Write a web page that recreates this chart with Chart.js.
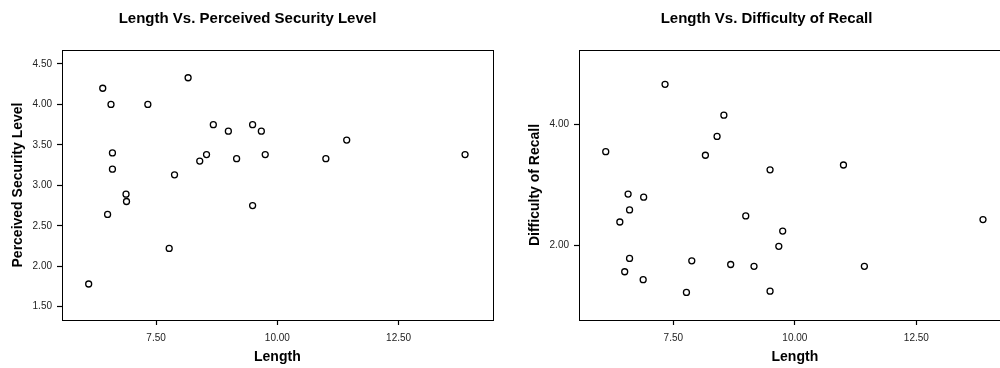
<!DOCTYPE html>
<html>
<head>
<meta charset="utf-8">
<script src="https://cdn.jsdelivr.net/npm/chart.js@4.4.1/dist/chart.umd.min.js"></script>
<style>
  html, body { margin: 0; padding: 0; background: #fff; overflow: hidden; width: 1000px; height: 368px; }
  .wrap { position: absolute; top: 0; }
  #wrapSecurity { left: 0; }
  #wrapRecall { left: 520px; }
</style>
</head>
<body>
<div class="wrap" id="wrapSecurity"><canvas id="securityChart" width="498" height="368"></canvas></div>
<div class="wrap" id="wrapRecall"><canvas id="recallChart" width="496" height="368"></canvas></div>
<script>
// password length per participant (shared x values of both plots)
const lengths = [6.11, 6.40, 6.50, 6.57, 6.60, 6.60, 6.88, 6.89, 7.33, 7.77, 7.88, 8.16,
                 8.40, 8.54, 8.68, 8.99, 9.16, 9.49, 9.49, 9.67, 9.75, 11.00, 11.43, 13.87];
const securityLevels = [1.78, 4.20, 2.64, 4.00, 3.40, 3.20, 2.89, 2.80, 4.00, 2.22, 3.13, 4.33,
                        3.30, 3.38, 3.75, 3.67, 3.33, 3.75, 2.75, 3.67, 3.38, 3.33, 3.56, 3.38];
const recallDifficulty = [3.55, 2.39, 1.57, 2.85, 2.59, 1.79, 1.44, 2.80, 4.66, 1.23, 1.75, 3.49,
                          3.80, 4.15, 1.69, 2.49, 1.66, 3.25, 1.25, 1.99, 2.24, 3.33, 1.66, 2.43];

const lengthTicks = [7.5, 10, 12.5];
const securityTicks = [1.5, 2, 2.5, 3, 3.5, 4, 4.5];
const recallTicks = [2, 4];

const FONT = '"Liberation Sans", Arial, sans-serif';

// draws the closed box round the plot area
const frameBox = {
  id: 'frameBox',
  afterDatasetsDraw(chart) {
    const { ctx, chartArea: a } = chart;
    ctx.save();
    ctx.strokeStyle = '#000';
    ctx.lineWidth = 1;
    ctx.strokeRect(Math.round(a.left) + 0.5, Math.round(a.top) + 0.5,
      Math.round(a.right - a.left), Math.round(a.bottom - a.top));
    ctx.restore();
  }
};

const axisGrid = {
  drawOnChartArea: false,
  drawTicks: true,
  tickLength: 5,
  color: '#000',
  lineWidth: 1,
  tickColor: '#000',
  tickWidth: 1.2
};

function makeScatter(canvasId, yValues, opts) {
  const points = lengths.map((x, i) => ({ x: x, y: yValues[i] }));
  return new Chart(document.getElementById(canvasId).getContext('2d'), {
    type: 'scatter',
    data: {
      datasets: [{
        data: points,
        pointStyle: 'circle',
        pointRadius: 3,
        pointBorderWidth: 1.3,
        pointBorderColor: '#000',
        pointBackgroundColor: '#fff'
      }]
    },
    options: {
      responsive: false,
      animation: false,
      devicePixelRatio: 1,
      layout: { padding: { left: 0, right: opts.rightPad, top: 0, bottom: 0 } },
      plugins: {
        legend: { display: false },
        tooltip: { enabled: false },
        title: {
          display: true,
          text: opts.title,
          color: '#000',
          font: { family: FONT, size: 15, weight: 'bold' },
          padding: { top: 10, bottom: 22 }
        }
      },
      scales: {
        x: {
          type: 'linear',
          position: 'bottom',
          min: 5.56,
          max: 14.44,
          afterBuildTicks: s => { s.ticks = lengthTicks.map(v => ({ value: v })); },
          afterFit: s => { s.height = 48; },
          ticks: {
            callback: v => Number(v).toFixed(2),
            color: '#222',
            font: { family: FONT, size: 10 },
            padding: 7,
            maxRotation: 0,
            autoSkip: false
          },
          grid: axisGrid,
          border: { display: true, color: '#000' },
          title: {
            display: true,
            text: 'Length',
            color: '#000',
            font: { family: FONT, size: 14, weight: 'bold' },
            padding: { top: 0, bottom: 2 }
          }
        },
        y: {
          type: 'linear',
          position: 'left',
          min: opts.yMin,
          max: opts.yMax,
          afterBuildTicks: s => { s.ticks = opts.yTicks.map(v => ({ value: v })); },
          afterFit: s => { s.width = opts.yAxisWidth; },
          ticks: {
            callback: v => Number(v).toFixed(2),
            color: '#222',
            font: { family: FONT, size: 10 },
            padding: 5,
            autoSkip: false
          },
          grid: axisGrid,
          border: { display: true, color: '#000' },
          title: {
            display: true,
            text: opts.yLabel,
            color: '#000',
            font: { family: FONT, size: 14, weight: 'bold' },
            padding: { top: opts.yTitlePad, bottom: 0 }
          }
        }
      }
    },
    plugins: [frameBox]
  });
}

makeScatter('securityChart', securityLevels, {
  title: 'Length Vs. Perceived Security Level',
  yLabel: 'Perceived Security Level',
  yMin: 1.335,
  yMax: 4.673,
  yTicks: securityTicks,
  yAxisWidth: 62,
  yTitlePad: 10,
  rightPad: 3
});

makeScatter('recallChart', recallDifficulty, {
  title: 'Length Vs. Difficulty of Recall',
  yLabel: 'Difficulty of Recall',
  yMin: 0.775,
  yMax: 5.225,
  yTicks: recallTicks,
  yAxisWidth: 59,
  yTitlePad: 7,
  rightPad: 3
});
</script>
</body>
</html>
